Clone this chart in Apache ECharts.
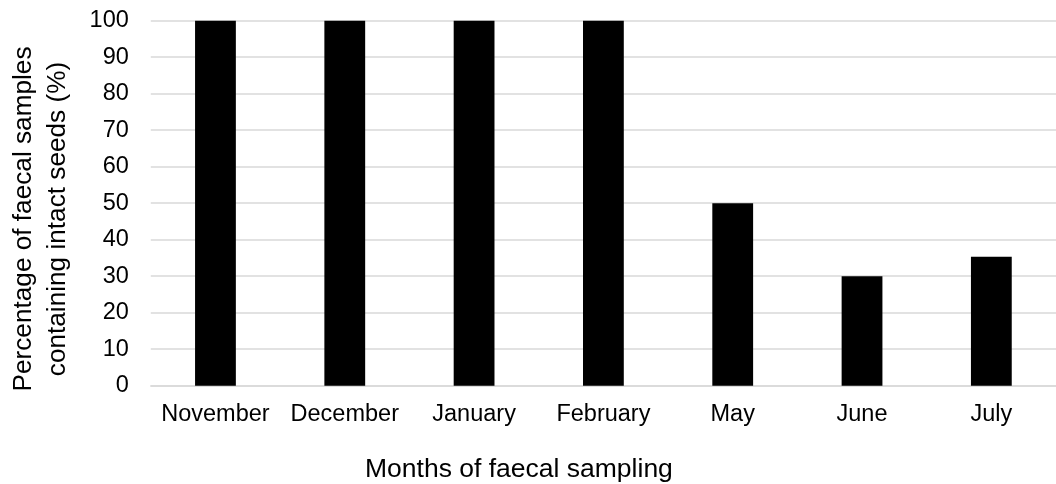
<!DOCTYPE html>
<html><head><meta charset="utf-8">
<script src="https://cdn.jsdelivr.net/npm/echarts@6/dist/echarts.min.js"></script>
<style>html,body{margin:0;padding:0;background:#fff}#c{width:1056px;height:484px}</style>
</head><body><div id="c"></div>
<script>
var categories = ["November","December","January","February","May","June","July"];
var values = [100, 100, 100, 100, 50, 30, 35.3];
var yTicks = [0,10,20,30,40,50,60,70,80,90,100];
var yTitle = "Percentage of faecal samples\ncontaining intact seeds (%)";
var xTitle = "Months of faecal sampling";

var chart = echarts.init(document.getElementById('c'), null, {renderer:'canvas'});
var font = 'Liberation Sans, Arial, sans-serif';
chart.setOption({
  animation:false,
  backgroundColor:'#fff',
  grid:{left:150.8, top:20.7, width:912.8, height:365, containLabel:false},
  xAxis:{type:'category', data:categories,
    axisLine:{show:true, lineStyle:{color:'#d9d9d9', width:1.5}},
    axisTick:{show:false},
    axisLabel:{color:'#000', fontSize:23.5, fontFamily:font, margin:17, interval:0, hideOverlap:false},
    splitLine:{show:false}},
  yAxis:{type:'value', min:yTicks[0], max:yTicks[yTicks.length-1], interval:10,
    axisLine:{show:false}, axisTick:{show:false},
    axisLabel:{color:'#000', fontSize:23.5, fontFamily:font, margin:22},
    splitLine:{lineStyle:{color:'#d9d9d9', width:1.5}}},
  series:[{type:'bar', data:values, barWidth:40.8,
    itemStyle:{color:'#000'}}],
  graphic:[
    {type:'text', x:365, y:470,
      style:{text:xTitle, fontSize:26.5, fontFamily:font, fill:'#000', align:'left', verticalAlign:'middle'}},
    {type:'text', rotation:Math.PI/2, x:40.9, y:219,
      style:{text:yTitle, fontSize:26.2, fontFamily:font, fill:'#000', align:'center', verticalAlign:'middle', lineHeight:33.4}}
  ]
});
</script></body></html>
